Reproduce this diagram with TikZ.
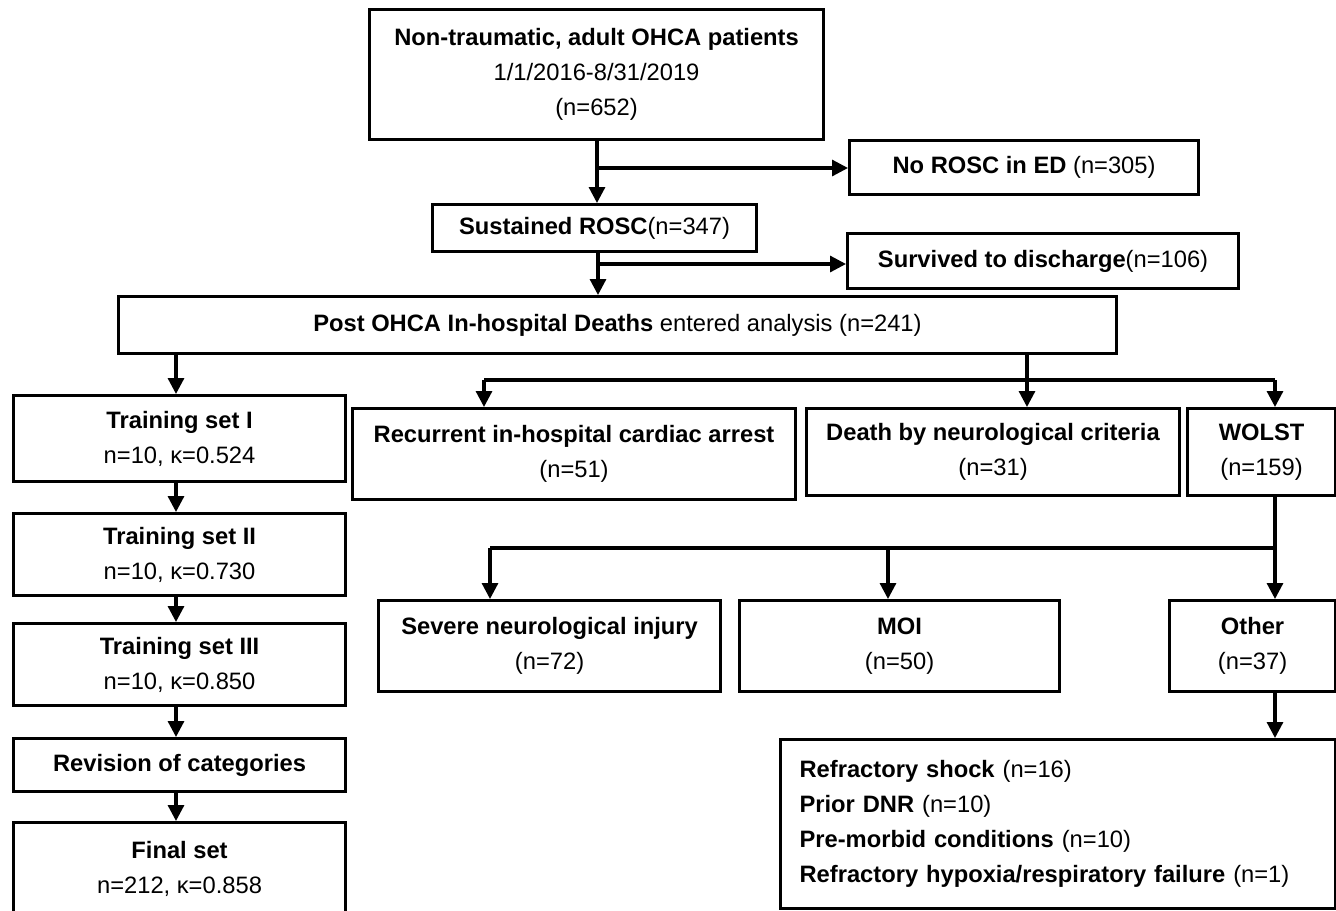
\documentclass[tikz,border=0pt]{standalone}
\usepackage{fontspec}
\setmainfont{Liberation Sans}
\usepackage{tikz}
\usetikzlibrary{arrows.meta,positioning}

\begin{document}
\begin{tikzpicture}[x=0.02cm, y=-0.02cm,
  box/.style={draw, line width=1.8pt, align=center, inner sep=0pt, anchor=north west,
    font=\fontsize{13.5}{20}\selectfont},
  arr/.style={line width=1.8pt, -{Triangle[length=9pt,width=9pt]}},
  lin/.style={line width=1.8pt}]
\useasboundingbox (0,0) rectangle (1336,910);

\node[box, minimum width=9.08cm, minimum height=2.6cm] (start) at (368,8)
  {\textbf{Non-traumatic, adult OHCA patients}\\1/1/2016-8/31/2019\\(n=652)};
\node[box, minimum width=6.98cm, minimum height=1.08cm] (norosc) at (848,139)
  {\textbf{No ROSC in ED} (n=305)};
\node[box, minimum width=6.48cm, minimum height=0.94cm] (rosc) at (431,203)
  {\textbf{Sustained ROSC}(n=347)};
\node[box, minimum width=7.82cm, minimum height=1.10cm] (surv) at (846,232)
  {\textbf{Survived to discharge}(n=106)};
\node[box, minimum width=19.96cm, minimum height=1.14cm] (deaths) at (117,295)
  {\textbf{Post OHCA In-hospital Deaths} entered analysis (n=241)};

\node[box, minimum width=6.64cm, minimum height=1.72cm] (trainA) at (12,394)
  {\textbf{Training set I}\\n=10, κ=0.524};
\node[box, minimum width=6.64cm, minimum height=1.64cm] (trainB) at (12,512)
  {\textbf{Training set II}\\n=10, κ=0.730};
\node[box, minimum width=6.64cm, minimum height=1.64cm] (trainC) at (12,622)
  {\textbf{Training set III}\\n=10, κ=0.850};
\node[box, minimum width=6.64cm, minimum height=1.06cm] (revis) at (12,737)
  {\textbf{Revision of categories}};
\node[box, minimum width=6.64cm, minimum height=1.86cm] (final) at (12,821)
  {\textbf{Final set}\\n=212, κ=0.858};

\node[box, minimum width=8.86cm, minimum height=1.82cm] (recur) at (351,407)
  {\textbf{Recurrent in-hospital cardiac arrest}\\(n=51)};
\node[box, minimum width=7.46cm, minimum height=1.74cm] (neuro) at (805,407)
  {\textbf{Death by neurological criteria}\\(n=31)};
\node[box, minimum width=2.96cm, minimum height=1.74cm] (wolst) at (1186,407)
  {\textbf{WOLST}\\(n=159)};

\node[box, minimum width=6.84cm, minimum height=1.82cm] (severe) at (377,599)
  {\textbf{Severe neurological injury}\\(n=72)};
\node[box, minimum width=6.40cm, minimum height=1.82cm] (moi) at (738,599)
  {\textbf{MOI}\\(n=50)};
\node[box, minimum width=3.32cm, minimum height=1.82cm] (other) at (1168,599)
  {\textbf{Other}\\(n=37)};
\node[box, align=left, inner xsep=0.38cm, text width=10.34cm, minimum height=3.38cm] (reasons) at (779,738)
  {\textbf{Refractory shock} (n=16)\\\textbf{Prior DNR} (n=10)\\\textbf{Pre-morbid conditions} (n=10)\\\textbf{Refractory hypoxia/respiratory failure} (n=1)};

\coordinate (splitA) at (597,168);
\coordinate (splitB) at (598,264);
\coordinate (busR) at (484,380);
\coordinate (busD) at (1027,380);
\coordinate (busW) at (1275,380);
\coordinate (busS) at (490,548);
\coordinate (busM) at (888,548);
\coordinate (busO) at (1275,548);

\draw[arr] (start.south -| splitA) -- (rosc.north -| splitA);
\draw[arr] (splitA) -- (norosc.west |- splitA);
\draw[arr] (rosc.south -| splitB) -- (deaths.north -| splitB);
\draw[arr] (splitB) -- (surv.west |- splitB);

\draw[arr] (deaths.south -| 176,0) -- (trainA.north -| 176,0);
\foreach \a/\b in {trainA/trainB, trainB/trainC, trainC/revis, revis/final}
  \draw[arr] (\a.south -| 176,0) -- (\b.north -| 176,0);

\draw[arr] (deaths.south -| busD) -- (neuro.north -| busD);
\draw[lin] (busR) -- (busW);
\draw[arr] (busR) -- (recur.north -| busR);
\draw[arr] (busW) -- (wolst.north -| busW);

\draw[arr] (wolst.south -| busO) -- (other.north -| busO);
\draw[lin] (busS) -- (busO);
\draw[arr] (busS) -- (severe.north -| busS);
\draw[arr] (busM) -- (moi.north -| busM);
\draw[arr] (other.south -| busO) -- (reasons.north -| busO);
\end{tikzpicture}
\end{document}
